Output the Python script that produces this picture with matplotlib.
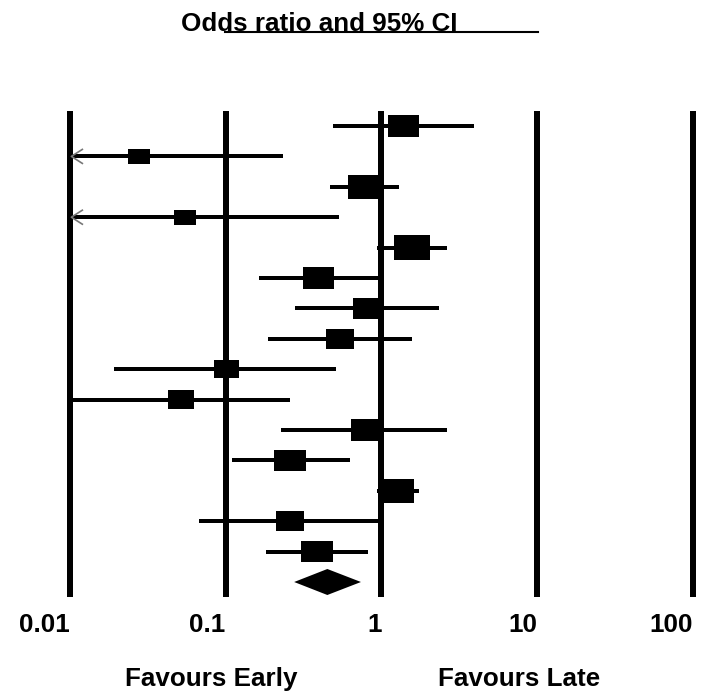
#!/usr/bin/env python3
"""Forest plot: odds ratio and 95% CI, early vs late."""

import numpy as np
import matplotlib
matplotlib.use('Agg')
import matplotlib.pyplot as plt
from matplotlib.patches import Rectangle, Polygon

# ── Data ──────────────────────────────────────────────────────────────────────

odds_ratio = [1.38, 0.0276, 0.79, 0.055, 1.57, 0.395, 0.816, 0.541,
              0.101, 0.0516, 0.803, 0.259, 1.25, 0.259, 0.384]
ci_low = [0.486, 0.004, 0.467, 0.006, 0.94, 0.163, 0.277, 0.187,
          0.0193, 0.0104, 0.226, 0.110, 0.93, 0.0673, 0.18]
ci_high = [3.93, 0.232, 1.29, 0.531, 2.65, 0.98, 2.33, 1.57,
           0.513, 0.257, 2.65, 0.628, 1.74, 0.98, 0.815]
weights = [7.1, 3.6, 9.2, 3.6, 9.5, 7.5, 6.5, 6.0,
           4.9, 5.3, 7.2, 7.5, 9.6, 6.2, 7.5]

pooled_or = 0.449
pooled_low = 0.275
pooled_high = 0.738

tick_values = [0.01, 0.1, 1, 10, 100]
tick_labels = ['0.01', '0.1', '1', '10', '100']

# ── Layout ────────────────────────────────────────────────────────────────────

W, H, DPI = 715, 691, 100
XLIM = (10 ** -2.4494, 10 ** 2.14125)
YLIM = (18.5855, -4.1447)
FONT = dict(family=['Liberation Sans', 'DejaVu Sans'], weight='bold', size=18.7)

fig = plt.figure(figsize=(W / DPI, H / DPI), dpi=DPI)
ax = fig.add_axes([0, 0, 1, 1])
ax.set_xscale('log')
ax.set_xlim(*XLIM)
ax.set_ylim(*YLIM)
ax.axis('off')

px_per_dec = W / (np.log10(XLIM[1]) - np.log10(XLIM[0]))
px_per_row = H / (YLIM[0] - YLIM[1])
lw_px = 72 / DPI  # points per pixel

n = len(odds_ratio)
rows = np.arange(n)

# reference lines
ax.vlines(tick_values, -0.5, n + 0.5, color='black', lw=6 * lw_px, capstyle='butt', zorder=1)

# confidence intervals (clipped at the axis floor, arrow when beyond)
lo_clip = np.maximum(ci_low, tick_values[0])
ax.hlines(rows, lo_clip, ci_high, color='black', lw=4 * lw_px, capstyle='butt', zorder=2)
for r, lo in zip(rows, ci_low):
  if lo < tick_values[0]:
    dx = 10 ** (11 / px_per_dec)
    dy = 7 / px_per_row
    x0 = tick_values[0] * 1.02
    ax.plot([x0 * dx, x0, x0 * dx], [r - dy, r, r + dy], color='#777777', lw=1.2, zorder=3)

# study boxes, area proportional to weight
for r, orv, w in zip(rows, odds_ratio, weights):
  area = w * 91.3
  h_px = np.sqrt(area / 1.45)
  w_px = 1.45 * h_px
  f = 10 ** (w_px / 2 / px_per_dec)
  hh = h_px / 2 / px_per_row
  ax.add_patch(Rectangle((orv / f, r - hh), orv * f - orv / f, 2 * hh,
                         facecolor='black', edgecolor='none', zorder=4))

# pooled diamond
dh = 13 / px_per_row
ax.add_patch(Polygon([(pooled_low, n), (pooled_or, n - dh), (pooled_high, n), (pooled_or, n + dh)],
                     closed=True, facecolor='black', edgecolor='none', zorder=4))

# tick labels
trans = ax.get_xaxis_transform()
for v, lab in zip(tick_values, tick_labels):
  ax.text(v, 1 - 632 / H, lab, transform=trans, ha='right', va='baseline', **FONT)

fig.text(125 / W, 1 - 686 / H, 'Favours Early', ha='left', va='baseline', **FONT)
fig.text(438 / W, 1 - 686 / H, 'Favours Late', ha='left', va='baseline', **FONT)

# title with its odd underline
fig.text(181 / W, 1 - 31 / H, 'Odds ratio and 95% CI', ha='left', va='baseline', **FONT)
fig.add_artist(plt.Line2D([225 / W, 538 / W], [1 - 32 / H, 1 - 32 / H], color='black', lw=1.5))

fig.savefig('out.png', dpi=DPI)
